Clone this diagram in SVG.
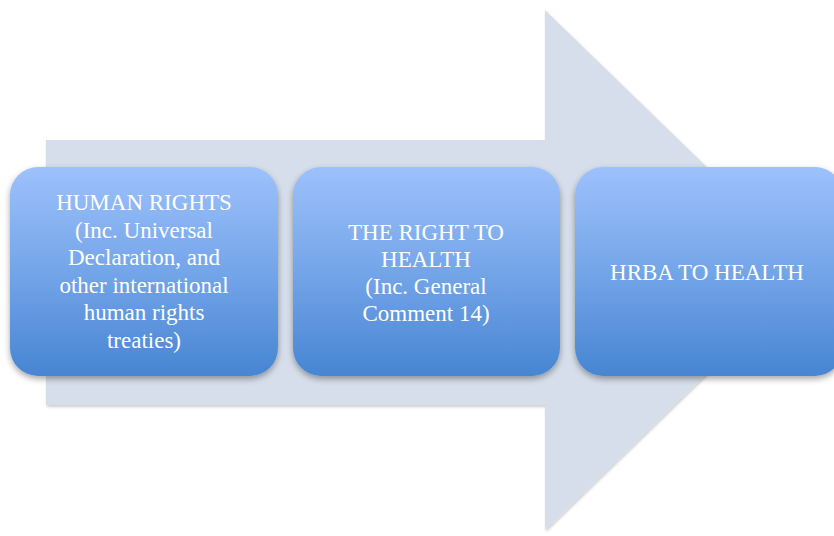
<svg xmlns="http://www.w3.org/2000/svg" width="834" height="536" viewBox="0 0 834 536">
<defs>
<linearGradient id="g" x1="0" y1="0" x2="0" y2="1">
<stop offset="0" stop-color="#9dc1fb"/>
<stop offset="0.5" stop-color="#74a5e9"/>
<stop offset="1" stop-color="#4785d2"/>
</linearGradient>
<filter id="sh" x="-10%" y="-10%" width="120%" height="125%">
<feGaussianBlur in="SourceAlpha" stdDeviation="3"/>
<feOffset dx="0" dy="3" result="b"/>
<feComponentTransfer><feFuncA type="linear" slope="0.35"/></feComponentTransfer>
<feMerge><feMergeNode/><feMergeNode in="SourceGraphic"/></feMerge>
</filter>
<filter id="ash" x="-5%" y="-5%" width="110%" height="110%">
<feGaussianBlur in="SourceAlpha" stdDeviation="1.5"/>
<feOffset dx="1" dy="2"/>
<feComponentTransfer><feFuncA type="linear" slope="0.2"/></feComponentTransfer>
<feMerge><feMergeNode/><feMergeNode in="SourceGraphic"/></feMerge>
</filter>
</defs>
<style>
.box{fill:url(#g);filter:url(#sh)}
.t{font-family:"Liberation Serif","DejaVu Serif",serif;font-size:23px;fill:#ffffff;text-anchor:middle}
</style>
<rect width="834" height="536" fill="#ffffff"/>
<g id="arrow">
<polygon points="46,140 545,140 545,10 813,270 545,530 545,405 46,405" fill="#d5deea" filter="url(#ash)"/>
</g>
<g id="connectors"></g>
<g id="node1">
<rect class="box" x="10" y="167" width="268" height="209" rx="28"/>
<text class="t"><tspan x="144" y="210">HUMAN RIGHTS</tspan><tspan x="144" y="238">(Inc. Universal</tspan><tspan x="144" y="265">Declaration, and</tspan><tspan x="144" y="293">other international</tspan><tspan x="144" y="320">human rights</tspan><tspan x="144" y="348">treaties)</tspan></text>
</g>
<g id="node2">
<rect class="box" x="293" y="167" width="267" height="209" rx="28"/>
<text class="t"><tspan x="426" y="240">THE RIGHT TO</tspan><tspan x="426" y="267">HEALTH</tspan><tspan x="426" y="294">(Inc. General</tspan><tspan x="426" y="321">Comment 14)</tspan></text>
</g>
<g id="node3">
<rect class="box" x="575" y="167" width="268" height="209" rx="28"/>
<text class="t" x="707" y="280">HRBA TO HEALTH</text>
</g>
</svg>
